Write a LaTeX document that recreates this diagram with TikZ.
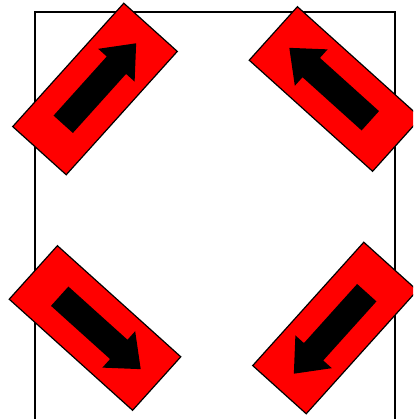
\documentclass[tikz,border=0pt]{standalone}
\usetikzlibrary{positioning}
\tikzset{
  signbox/.style={draw, fill=red, line width=1.2pt, minimum width=166pt,
    minimum height=72pt, inner sep=0pt},
  frameline/.style={line width=1.5pt}
}
% arrow drawn along the box axis, shifted forward a little
\newcommand{\signarrow}[2]{%
  \fill[shift={(#1)}, rotate=#2] (-47.5,13) -- (32,13) -- (32,24.5) -- (61.5,0)
    -- (32,-24.5) -- (32,-13) -- (-47.5,-13) -- cycle;}

\begin{document}
\begin{tikzpicture}[x=1pt, y=1pt]
  \useasboundingbox (0,0) rectangle (413,419);
  \clip (0,0) rectangle (413,419);
  % outer frame (bottom edge runs off the picture)
  \draw[frameline] (35,-10) -- (35,407) -- (395,407) -- (395,-10);
  % the four signs
  \node[signbox, rotate=48]  (topleft)  at (95,330) {};
  \node[signbox, rotate=-42] (topright) at (335,330) {};
  \node[signbox, rotate=-42] (botleft)  at (95,91) {};
  \node[signbox, rotate=48]  (botright) at (335,91) {};
  \signarrow{topleft.center}{48}
  \signarrow{topright.center}{138}
  \signarrow{botleft.center}{-42}
  \signarrow{botright.center}{228}
\end{tikzpicture}
\end{document}
